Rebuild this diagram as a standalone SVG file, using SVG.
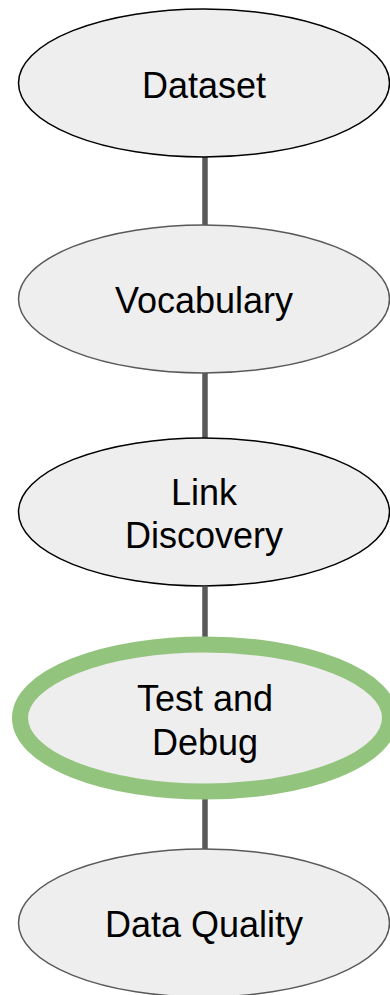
<svg xmlns="http://www.w3.org/2000/svg" width="390" height="995" viewBox="0 0 390 995">
<style>
.n{fill:#eeeeee;stroke-width:1.5}
.k{stroke:#000000}
.g{stroke:#595959}
.hl{stroke:#93c47d;stroke-width:16}
.t{font-family:"Liberation Sans",Arial,sans-serif;font-size:36px;fill:#000000;text-anchor:middle}
.c{stroke:#595959;stroke-width:5.5;fill:none}
</style>
<rect width="390" height="995" fill="#ffffff"/>
<g id="connectors">
<line class="c" x1="205" y1="157" x2="205" y2="226"/>
<line class="c" x1="205" y1="373" x2="205" y2="438"/>
<line class="c" x1="205" y1="587" x2="205" y2="645"/>
<line class="c" x1="205" y1="792" x2="205" y2="849"/>
</g>
<g id="dataset">
<ellipse class="n k" cx="204" cy="83" rx="185.5" ry="74"/>
<text class="t" x="204" y="98">Dataset</text>
</g>
<g id="vocabulary">
<ellipse class="n g" cx="204" cy="299" rx="185.5" ry="74"/>
<text class="t" x="204" y="313">Vocabulary</text>
</g>
<g id="link-discovery">
<ellipse class="n k" cx="204" cy="512" rx="185.5" ry="74"/>
<text class="t" x="204" y="505">Link</text>
<text class="t" x="204" y="548">Discovery</text>
</g>
<g id="test-and-debug">
<ellipse class="n hl" cx="205" cy="718" rx="185" ry="73.5"/>
<text class="t" x="205" y="711">Test and</text>
<text class="t" x="205" y="755">Debug</text>
</g>
<g id="data-quality">
<ellipse class="n g" cx="204" cy="923" rx="185.5" ry="74"/>
<text class="t" x="204" y="937">Data Quality</text>
</g>
</svg>
